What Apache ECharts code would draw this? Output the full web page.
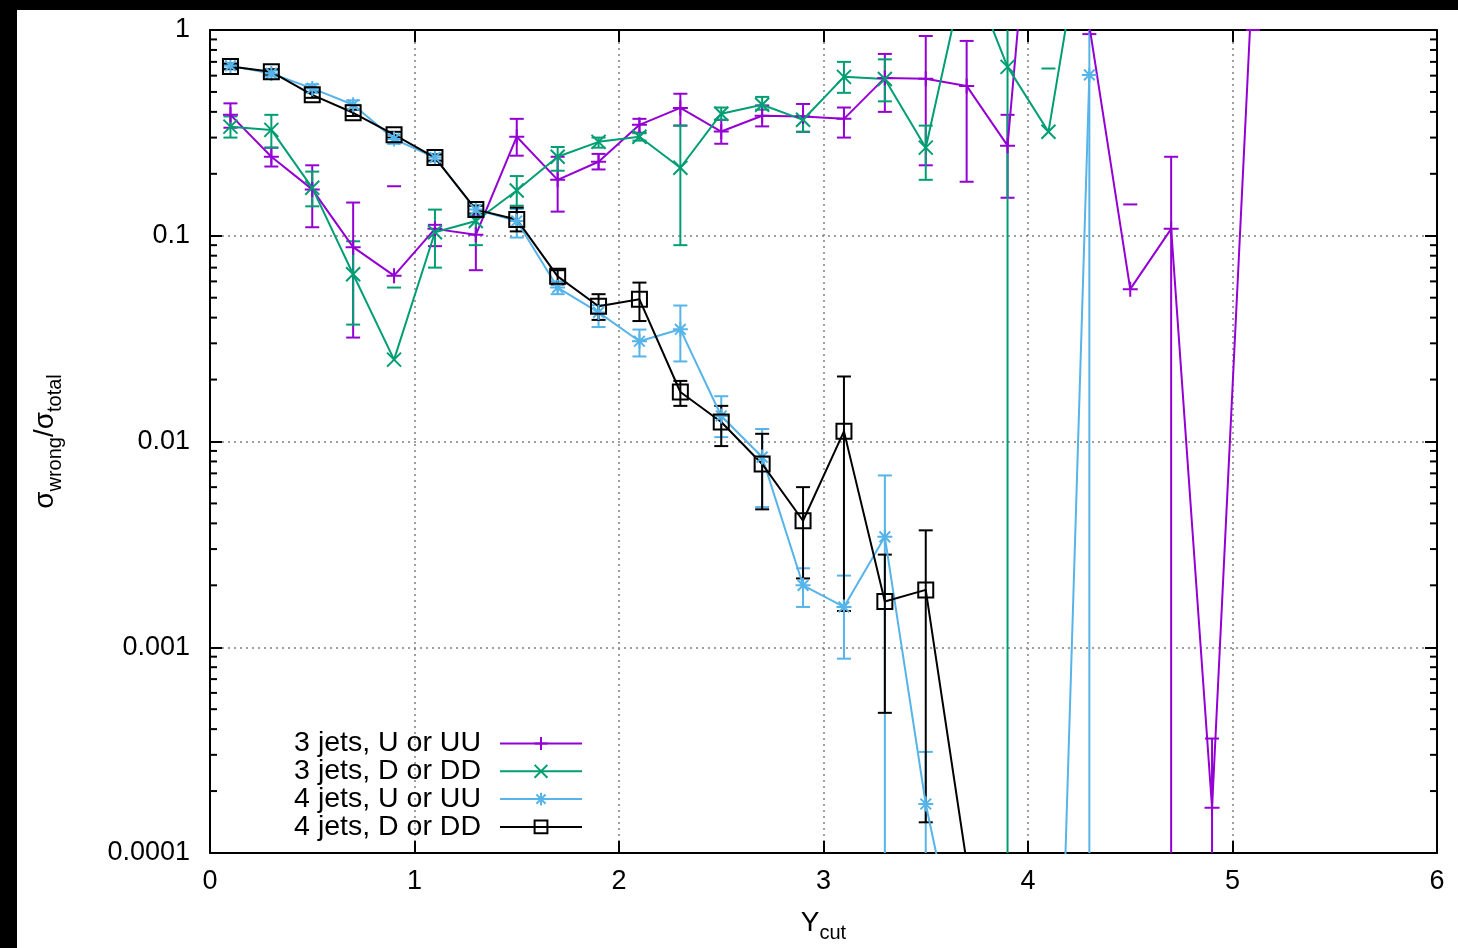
<!DOCTYPE html>
<html>
<head>
<meta charset="utf-8">
<script src="https://cdn.jsdelivr.net/npm/echarts@6.0.0/dist/echarts.min.js"></script>
<style>
  html, body { margin: 0; padding: 0; background: #fff; }
  #chart { width: 1458px; height: 948px; }
</style>
</head>
<body>
<div id="chart"></div>
<script>
// Y_cut values (x axis)
const xCut = [0.1, 0.3, 0.5, 0.7, 0.9, 1.1, 1.3, 1.5, 1.7, 1.9, 2.1, 2.3, 2.5,
  2.7, 2.9, 3.1, 3.3, 3.5, 3.7, 3.9, 4.1, 4.3, 4.5, 4.7, 4.9, 5.1];

// 3 jets, U or UU
const u3Val = [0.387, 0.242, 0.168, 0.088, 0.064, 0.108, 0.101, 0.303, 0.187, 0.229, 0.346, 0.418, 0.321,
  0.383, 0.38, 0.37, 0.585, 0.58, 0.535, 0.274, 50, 1.05, 0.055, 0.108, 0.000166, 2];
const u3Hi = [0.44, 0.268, 0.22, 0.145, 0.174, 0.113, 0.125, 0.37, 0.242, 0.25, 0.37, 0.49, 0.366,
  0.43, 0.437, 0.42, 0.765, 0.935, 0.885, 0.387, 60, 1.2, 0.142, 0.242, 0.00036, 3];
const u3Lo = [0.335, 0.217, 0.11, 0.032, null, 0.089, 0.068, 0.245, 0.131, 0.21, 0.317, 0.343, 0.28,
  0.34, 0.32, 0.30, 0.40, 0.22, 0.183, 0.153, 40, 0.955, null, 1e-6, 1e-6, 1];

// 3 jets, D or DD
const d3Val = [0.339, 0.327, 0.171, 0.065, 0.025, 0.104, 0.118, 0.166, 0.242, 0.286, 0.303, 0.214, 0.392,
  0.433, 0.366, 0.592, 0.578, 0.268, 2.1, 0.662, 0.32, 5];
const d3Hi = [0.38, 0.387, 0.205, 0.094, 0.056, 0.134, 0.14, 0.195, 0.27, 0.30, 0.315, 0.343, 0.42,
  0.473, 0.38, 0.70, 0.72, 0.343, 2.5, 3, 0.65, 6];
const d3Lo = [0.30, 0.268, 0.139, 0.037, null, 0.07, 0.09, 0.14, 0.207, 0.268, 0.29, 0.09, 0.366,
  0.41, 0.32, 0.495, 0.45, 0.187, 1.7, 1e-6, null, 4];

// 4 jets, U or UU
const u4Val = [0.67, 0.615, 0.52, 0.433, 0.295, 0.24, 0.134, 0.118, 0.056, 0.0424, 0.0307, 0.0351, 0.0133,
  0.0084, 0.002, 0.00157, 0.00344, 0.000173, 2e-5, 1e-6, 2e-7, 0.605];
const u4Hi = [0.69, 0.635, 0.545, 0.455, 0.31, 0.25, 0.14, 0.135, 0.06, 0.046, 0.035, 0.0458, 0.0166,
  0.0115, 0.00242, 0.00223, 0.00684, 0.00031, 4e-5, 2e-6, 4e-7, 2];
const u4Lo = [0.65, 0.595, 0.495, 0.41, 0.28, 0.23, 0.128, 0.098, 0.052, 0.036, 0.0259, 0.0245, 0.0105,
  0.0048, 0.00157, 0.00088, 1e-6, 1e-6, 1e-6, 1e-7, 1e-8, 1e-6];

// 4 jets, D or DD
const d4Val = [0.664, 0.626, 0.484, 0.396, 0.31, 0.24, 0.134, 0.12, 0.0635, 0.0454, 0.0491, 0.0174, 0.01244,
  0.00778, 0.00412, 0.0112, 0.00167, 0.0019, 0.00009];
const d4Hi = [0.685, 0.645, 0.5, 0.41, 0.32, 0.248, 0.14, 0.137, 0.068, 0.052, 0.0592, 0.0197, 0.0149,
  0.0109, 0.006, 0.0207, 0.00282, 0.0037, 0.0001];
const d4Lo = [0.645, 0.607, 0.468, 0.382, 0.30, 0.232, 0.128, 0.105, 0.058, 0.039, 0.0385, 0.0149, 0.0095,
  0.00468, 0.00216, 0.0015, 0.00048, 0.000141, 0.00008];

// axis ticks
const xTickLabels = ["0", "1", "2", "3", "4", "5", "6"];
const yTickValues = [0.0001, 0.001, 0.01, 0.1, 1];
const yTickLabels = ["0.0001", "0.001", "0.01", "0.1", "1"];

const FONT = "Liberation Sans";

// minor log ticks 2..9 in every decade
const minorTicks = [];
for (let d = 0; d < yTickValues.length - 1; d++) {
  for (let k = 2; k <= 9; k++) minorTicks.push([0, k * yTickValues[d]]);
}

const seriesDefs = [
  { name: "3 jets, U or UU", color: "#9400d3", val: u3Val, lo: u3Lo, hi: u3Hi,
    symbol: "path://M0,7L14,7M7,0L7,14", size: 15 },
  { name: "3 jets, D or DD", color: "#009e73", val: d3Val, lo: d3Lo, hi: d3Hi,
    symbol: "path://M0,0L14,14M14,0L0,14", size: 14 },
  { name: "4 jets, U or UU", color: "#56b4e9", val: u4Val, lo: u4Lo, hi: u4Hi,
    symbol: "path://M0,7L14,7M7,0L7,14M2,2L12,12M12,2L2,12", size: 15 },
  { name: "4 jets, D or DD", color: "#000000", val: d4Val, lo: d4Lo, hi: d4Hi,
    symbol: "path://M0,0L14,0L14,14L0,14Z", size: 15 },
];

// error bars, clipped to the plot box by hand
function errorBars(color) {
  return function (params, api) {
    const cs = params.coordSys;
    const top = cs.y, bottom = cs.y + cs.height;
    const x = api.value(0);
    const lo = api.value(2), hi = api.value(3);
    const half = 7;
    const style = { stroke: color, lineWidth: 2 };
    const kids = [];
    const pHi = api.coord([x, hi]);
    const px = pHi[0];
    const inside = (y) => y >= top - 0.5 && y <= bottom + 0.5;
    if (inside(pHi[1])) {
      kids.push({ type: "line", shape: { x1: px - half, y1: pHi[1], x2: px + half, y2: pHi[1] }, style });
    }
    if (!isNaN(lo) && lo !== null) {
      const pLo = api.coord([x, lo]);
      const y1 = Math.max(top, Math.min(bottom, pHi[1]));
      const y2 = Math.max(top, Math.min(bottom, pLo[1]));
      if (y2 - y1 > 0.5) {
        kids.push({ type: "line", shape: { x1: px, y1: y1, x2: px, y2: y2 }, style });
      }
      if (inside(pLo[1])) {
        kids.push({ type: "line", shape: { x1: px - half, y1: pLo[1], x2: px + half, y2: pLo[1] }, style });
      }
    }
    return { type: "group", children: kids };
  };
}

const series = [];
seriesDefs.forEach((s) => {
  series.push({
    name: s.name + " err",
    type: "custom",
    renderItem: errorBars(s.color),
    encode: { x: 0, y: 1 },
    data: s.val.map((v, i) => [xCut[i], v, s.lo[i], s.hi[i]]),
    silent: true,
    z: 2,
  });
  series.push({
    name: s.name,
    type: "line",
    data: s.val.map((v, i) => [xCut[i], v]),
    symbol: s.symbol,
    symbolSize: s.size,
    showAllSymbol: true,
    clip: true,
    lineStyle: { color: s.color, width: 2 },
    itemStyle: { color: "rgba(0,0,0,0)", borderColor: s.color, borderWidth: 2 },
    z: 2,
    animation: false,
  });
});

// minor ticks on left and right frame
series.push({
  name: "minor",
  type: "custom",
  silent: true,
  encode: { x: 0, y: 1 },
  data: minorTicks,
  renderItem: function (params, api) {
    const cs = params.coordSys;
    const y = api.coord([0, api.value(1)])[1];
    const st = { stroke: "#000", lineWidth: 2 };
    return {
      type: "group",
      children: [
        { type: "line", shape: { x1: cs.x, y1: y, x2: cs.x + 7, y2: y }, style: st },
        { type: "line", shape: { x1: cs.x + cs.width - 7, y1: y, x2: cs.x + cs.width, y2: y }, style: st },
      ],
    };
  },
  z: 3,
});

const gridLine = { show: true, lineStyle: { color: "#808080", width: 1.5, type: [2, 4] } };
const frameLine = { show: true, onZero: false, lineStyle: { color: "#000", width: 2 } };

const chart = echarts.init(document.getElementById("chart"));
chart.setOption({
  animation: false,
  backgroundColor: "#fff",
  graphic: [
    { type: "rect", shape: { x: 0, y: 0, width: 1458, height: 10 }, style: { fill: "#000" }, z: 100 },
    { type: "rect", shape: { x: 0, y: 0, width: 17, height: 948 }, style: { fill: "#000" }, z: 100 },
  ],
  grid: { left: 210, right: 21, top: 30, bottom: 93, containLabel: false },
  legend: {
    orient: "vertical",
    align: "right",
    right: 875,
    top: 729,
    padding: 0,
    itemGap: -1.2,
    itemWidth: 82,
    itemHeight: 16,
    selectedMode: false,
    data: seriesDefs.map((s) => s.name),
    textStyle: { fontSize: 28.5, fontFamily: FONT, color: "#000", lineHeight: 28, padding: [0, 14, 0, 0] },
  },
  xAxis: [
    {
      type: "value", min: 0, max: 6, interval: 1,
      axisLine: frameLine,
      axisTick: { show: true, inside: true, length: 12, lineStyle: { color: "#000", width: 2 } },
      axisLabel: {
        margin: 15, fontSize: 27, fontFamily: FONT, color: "#000",
        formatter: (v) => xTickLabels[Math.round(v)],
      },
      splitLine: gridLine,
      name: "{m|Y}{s|cut}",
      nameLocation: "middle",
      nameGap: 50,
      nameTextStyle: {
        rich: {
          m: { fontSize: 28, fontFamily: FONT, color: "#000", lineHeight: 40 },
          s: { fontSize: 20, fontFamily: FONT, color: "#000", lineHeight: 18, verticalAlign: "bottom" },
        },
      },
    },
    {
      type: "value", min: 0, max: 6, interval: 1, position: "top",
      axisLine: frameLine,
      axisTick: { show: true, inside: true, length: 12, lineStyle: { color: "#000", width: 2 } },
      axisLabel: { show: false },
      splitLine: { show: false },
    },
  ],
  yAxis: [
    {
      type: "log", logBase: 10, min: 0.0001, max: 1,
      axisLine: frameLine,
      axisTick: { show: true, inside: true, length: 12, lineStyle: { color: "#000", width: 2 } },
      axisLabel: {
        margin: 20, fontSize: 27, fontFamily: FONT, color: "#000",
        formatter: (v) => {
          const i = yTickValues.findIndex((t) => Math.abs(Math.log10(v / t)) < 1e-6);
          return i >= 0 ? yTickLabels[i] : "";
        },
      },
      splitLine: gridLine,
      name: "{m|σ}{s|wrong}{m|/σ}{s|total}",
      nameLocation: "middle",
      nameRotate: 90,
      nameGap: 145,
      nameTextStyle: {
        rich: {
          m: { fontSize: 28, fontFamily: FONT, color: "#000", lineHeight: 40 },
          s: { fontSize: 20, fontFamily: FONT, color: "#000", lineHeight: 18, verticalAlign: "bottom" },
        },
      },
    },
    {
      type: "log", logBase: 10, min: 0.0001, max: 1, position: "right",
      axisLine: frameLine,
      axisTick: { show: true, inside: true, length: 12, lineStyle: { color: "#000", width: 2 } },
      axisLabel: { show: false },
      splitLine: { show: false },
    },
  ],
  series: series,
});
</script>
</body>
</html>
